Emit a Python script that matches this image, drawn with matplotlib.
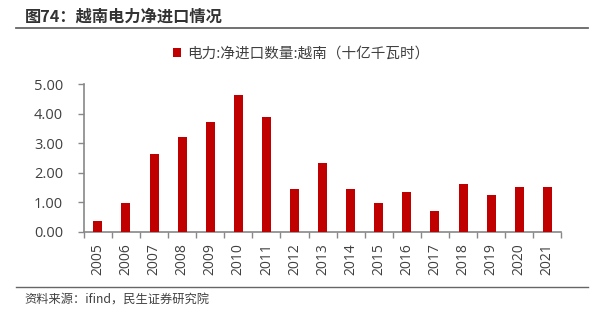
import matplotlib
matplotlib.use("Agg")
import matplotlib.pyplot as plt
import numpy as np

plt.rcParams['font.family'] = ['Noto Sans CJK SC', 'DejaVu Sans']

years = [str(y) for y in range(2005, 2022)]
net_import = [0.37, 0.96, 2.63, 3.22, 3.73, 4.64, 3.88, 1.45, 2.33, 1.45,
              0.97, 1.34, 0.70, 1.62, 1.24, 1.52, 1.53]
series_name = "电力:净进口数量:越南（十亿千瓦时）"

fig = plt.figure(figsize=(6.03, 3.21), dpi=100)
ax = fig.add_axes([0.139, 0.278, 0.792, 0.46])

x = np.arange(len(years))
ax.bar(x, net_import, width=0.32, color="#C00000", label=series_name, zorder=3)

ax.set_xlim(-0.5, len(years) - 0.5)
ax.set_ylim(0, 5)
ax.set_yticks(np.arange(0, 5.01, 1))
ax.set_yticklabels([f"{v:.2f}" for v in np.arange(0, 5.01, 1)],
                   fontsize=10.5, color="#404040", family=['Open Sans', 'DejaVu Sans'])
ax.set_xticks(x)
ax.set_xticklabels(years, rotation=90, fontsize=10, color="#404040",
                   family=['Open Sans', 'DejaVu Sans'])
ax.tick_params(axis='x', length=0, pad=8)
ax.set_xticks(np.arange(-0.5, len(years)), minor=True)
ax.tick_params(axis='x', which='minor', length=4, color="#888888", width=1)
ax.tick_params(axis='y', length=4, color="#888888", width=1, pad=11)

for s in ['top', 'right']:
    ax.spines[s].set_visible(False)
for s in ['left', 'bottom']:
    ax.spines[s].set_color("#888888")
    ax.spines[s].set_linewidth(1.2)

ax.legend(loc='upper center', bbox_to_anchor=(0.455, 1.34), frameon=False,
          fontsize=10.5, handlelength=0.55, handleheight=0.55, handletextpad=0.4,
          labelcolor="#404040")

fig.text(0.041, 0.948, "图74：越南电力净进口情况", fontsize=11.7, fontweight='bold',
         color="#333333", va='center')
fig.add_artist(plt.Line2D([0.0265, 0.975], [0.912, 0.912], color="#666666", lw=1.3))
fig.add_artist(plt.Line2D([0.0265, 0.975], [0.105, 0.105], color="#666666", lw=1.0))
fig.text(0.041, 0.064, "资料来源：ifind，民生证券研究院", fontsize=8.8,
         color="#404040", va='center')

fig.savefig("out.png", dpi=100)
